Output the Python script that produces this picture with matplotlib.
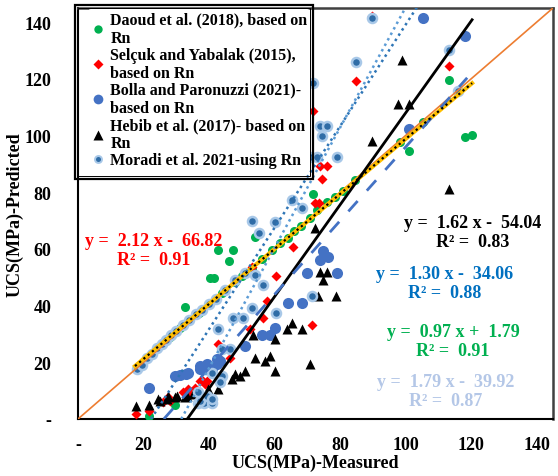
#UCS measured vs predicted for the five Rn-based models, with the fitted trendlines.

import matplotlib
matplotlib.use("Agg")
import matplotlib.pyplot as plt
from matplotlib.lines import Line2D
from matplotlib.patches import Rectangle
import numpy as np

plt.rcParams['font.family'] = ['Liberation Serif', 'DejaVu Serif']
plt.rcParams['font.weight'] = 'bold'

# Daoud et al. (2018)
daoud_x = [21.8, 29.6, 28, 31, 34, 37, 44, 48, 50, 53, 56.2, 59.2, 61.7, 64, 66, 68, 70.8, 73, 76, 78.5,
           81, 84.6, 32.7, 40.3, 41.5, 42.7, 46.1, 47.3, 54, 71.8, 98.3, 100.9, 105.4, 113.1, 118.2, 120.2]
daoud_y = [0.9, 4.9, 29, 32, 35, 37.5, 44.5, 48.5, 50.5, 53, 56.5, 59.6, 62, 64, 66.5, 68, 70.9, 73.7, 76.5, 78.4,
           80.5, 84.2, 39.6, 49.8, 49.8, 59.6, 55.8, 59.6, 64.3, 79.5, 97.7, 94.4, 104.7, 119.5, 99.6, 100.2]

# Selcuk and Yabalak (2015)
selcuk_x = [17.7, 21.8, 26, 27.6, 28.1, 32.2, 33.7, 34.2, 35.7, 37.3, 38.3, 38.8, 39.3, 42.8, 43.4, 46.4, 52.5,
            53, 56.6, 57.6, 60.4, 65.7, 71.4, 72.4, 73.7, 73.9, 75.9, 74.6, 71.8, 84.8, 89.7, 113.1]
selcuk_y = [1.8, 2.9, 5.9, 7.6, 6.4, 9.4, 10.5, 8.8, 11.1, 13.4, 13.4, 12.3, 13.4, 26.3, 21.1, 21.6, 31.6,
            53.8, 35.7, 41.5, 50.6, 60.8, 33, 76.2, 76.2, 89.2, 89.2, 84.6, 108.5, 119.1, 142.1, 124.6]

# Bolla and Paronuzzi (2021)
bolla_x = [21.8, 29.6, 31.1, 33, 33.7, 37.3, 37.3, 39.3, 40.8, 42.4, 42.4, 43.4, 51, 56.1, 58.6, 60.2,
           64.2, 68.3, 69.8, 73.9, 74.9, 76.4, 79, 100.9, 105.4, 118.2]
bolla_y = [11.1, 15.2, 15.4, 15.8, 16.4, 17.8, 18.7, 19.3, 17.5, 19.3, 21.1, 20.5, 25.7, 29.8, 29.8, 32.2,
           40.9, 40.9, 51.5, 56.1, 59.1, 57.3, 51.5, 102.4, 141.3, 135.1]

# Hebib et al. (2017)
hebib_x = [17.7, 21.8, 24.5, 25, 27.1, 27.6, 29.6, 30.1, 32.7, 33.2, 35.2, 37.3, 39.8, 42.8, 46.9, 47.9,
           49.5, 51, 53.5, 54, 57.1, 58.6, 60.2, 60.2, 63.7, 65.3, 68.3, 70.8, 72.2, 73.2, 73.9, 75.9,
           74.7, 78.8, 89.7, 97.8, 100.9, 98.8, 113.1]
hebib_y = [4.7, 4.9, 7, 6.4, 7, 8.2, 7.6, 8.2, 7.6, 8.2, 8.8, 9.4, 10.5, 10.5, 14, 15.8,
           15.2, 16.9, 29.8, 21.6, 20.5, 22.2, 16.9, 28.1, 31.6, 33.9, 31.6, 19.3, 67.3, 43.3, 52, 52,
           49.1, 43.3, 98.2, 111.3, 111.3, 126.6, 81.3]

# Moradi et al. (2021)
moradi_x = [17.9, 19.5, 21, 22.5, 24, 25.5, 27, 28.5, 30, 32, 34, 36, 38, 40, 42, 45, 48, 51,
            36.5, 38.6, 40.8, 37.3, 39.3, 40.8, 36.7, 40.8, 43.9, 43.4, 43.9, 46.4, 42.8, 47.4, 50.5,
            53, 60.5, 56.6, 54, 71.4, 55.4, 53, 60.2, 65.3, 68.3, 70.8, 72.9, 79, 74.6, 73.9, 75.9,
            71.8, 84.8, 89.7, 113.1, 116.1]
moradi_y = [17.5, 19, 21.5, 23, 25, 26.5, 28, 29.5, 31, 33, 35, 37, 38.5, 40.5, 42.5, 45.5, 49, 51.5,
            5.8, 5.8, 5.8, 6.4, 8.2, 7, 9.4, 16.4, 15.2, 12.9, 24.6, 24.6, 31.6, 35.7, 35.7,
            39.2, 37.4, 47.1, 50.9, 43.3, 65.7, 69.8, 69.6, 77.4, 74.3, 92.4, 92.4, 92.4, 100, 103.5, 103.5,
            118.7, 126.1, 141.3, 130.1, 115.8]

# trendline coefficients (slope, intercept) and R²
fit_daoud = (0.97, 1.79, 0.91)
fit_selcuk = (2.12, -66.82, 0.91)
fit_bolla = (1.30, -34.06, 0.88)
fit_hebib = (1.62, -54.04, 0.83)
fit_moradi = (1.79, -39.92, 0.87)

ticks = [0, 20, 40, 60, 80, 100, 120, 140]
tick_labels = ['-'] + [str(t) for t in ticks[1:]]


def eq_text(fit):
    a, b, r2 = fit
    sign = '+' if b >= 0 else '-'
    return 'y =  %.2f x %s  %.2f\nR² =  %.2f' % (a, sign, abs(b), r2)


def fit_line(fit, x0, x1):
    x = np.array([x0, x1])
    return x, fit[0] * x + fit[1]


fig = plt.figure(figsize=(5.58, 4.77), dpi=100)
ax = fig.add_axes([78 / 558, 57 / 477, 475 / 558, 411 / 477])
ax.set_xlim(0, 145)
ax.set_ylim(0, 145)

ax.plot(daoud_x, daoud_y, 'o', color='#00B050', ms=6.5, mec='none', zorder=3)
ax.plot(selcuk_x, selcuk_y, 'D', color='#FF0000', ms=5.5, mec='none', zorder=3)
ax.plot(bolla_x, bolla_y, 'o', color='#4472C4', ms=8, mec='none', zorder=3)
ax.plot(hebib_x, hebib_y, '^', color='black', ms=7, mec='none', zorder=3)
ax.plot(moradi_x, moradi_y, 'o', color='#2F6CA6', ms=6.5, mec='#A8C8E8', mew=1.8, zorder=4)

# 1:1 line
ax.plot([0, 145], [0, 145], color='#ED7D31', lw=1.2, zorder=5)

# trendlines
x, y = fit_line(fit_daoud, 17.4, 120.3)
ax.plot(x, y, color='#FFC000', lw=3, zorder=6)
ax.plot(x, y, color='black', lw=1.6, ls=(0, (1, 1.5)), zorder=7)
x, y = fit_line(fit_hebib, -fit_hebib[1] / fit_hebib[0], 120.3)
ax.plot(x, y, color='black', lw=2, zorder=6)
x, y = fit_line(fit_bolla, -fit_bolla[1] / fit_bolla[0], 118.8)
ax.plot(x, y, color='#4472C4', lw=2, ls=(0, (5, 5)), zorder=6)
x, y = fit_line(fit_selcuk, -fit_selcuk[1] / fit_selcuk[0], 150)
ax.plot(x, y, color='#5B9BD5', lw=1.8, ls=(0, (1, 1.5)), zorder=6)
x, y = fit_line(fit_moradi, -fit_moradi[1] / fit_moradi[0], 150)
ax.plot(x, y, color='#2E75B6', lw=1.8, ls=(0, (1, 1.5)), zorder=6)

# equation labels
eq_style = dict(fontsize=13, fontweight='bold', ha='center', va='center', linespacing=1.15, zorder=8)
ax.text(23.0, 59.5, eq_text(fit_selcuk), color='#FF0000', **eq_style)
ax.text(120.6, 66.0, eq_text(fit_hebib), color='black', **eq_style)
ax.text(112.0, 48.0, eq_text(fit_bolla), color='#0070C0', **eq_style)
ax.text(114.5, 27.5, eq_text(fit_daoud), color='#00B050', **eq_style)
ax.text(112.2, 9.8, eq_text(fit_moradi), color='#B4C7E7', **eq_style)

ax.set_xticks(ticks)
ax.set_xticklabels(tick_labels)
ax.set_yticks(ticks)
ax.set_yticklabels(tick_labels)
ax.tick_params(axis='both', length=0, labelsize=13)
ax.tick_params(axis='x', pad=12)
ax.tick_params(axis='y', pad=19)
for lab in ax.get_xticklabels() + ax.get_yticklabels():
    lab.set_fontweight('bold')

ax.set_xlabel('UCS(MPa)-Measured', fontsize=13, fontweight='bold', labelpad=1)
ax.set_ylabel('UCS(MPa)-Predicted', fontsize=13, fontweight='bold', labelpad=1)

for side in ['top', 'right']:
    ax.spines[side].set_color('#404040')
    ax.spines[side].set_linewidth(1.8)
for side in ['left', 'bottom']:
    ax.spines[side].set_color('black')
    ax.spines[side].set_linewidth(1.5)

# legend with a double frame
handles = [
    Line2D([], [], ls='none', marker='o', color='#00B050', ms=6, mec='none'),
    Line2D([], [], ls='none', marker='D', color='#FF0000', ms=5, mec='none'),
    Line2D([], [], ls='none', marker='o', color='#4472C4', ms=7, mec='none'),
    Line2D([], [], ls='none', marker='^', color='black', ms=6.5, mec='none'),
    Line2D([], [], ls='none', marker='o', color='#2F6CA6', ms=5, mec='#A8C8E8', mew=1.4),
]
labels = [
    'Daoud et al. (2018), based on\nRn',
    'Selçuk and Yabalak (2015),\nbased on Rn',
    'Bolla and Paronuzzi (2021)-\nbased on Rn',
    'Hebib et al. (2017)- based on\nRn',
    'Moradi et al. 2021-using Rn',
]
leg = fig.legend(handles, labels, loc='upper left', bbox_to_anchor=(80 / 558, 1 - 2 / 477),
                 frameon=True, facecolor='white', edgecolor='none', framealpha=1, borderpad=0.15,
                 handlelength=1.0, handletextpad=0.25, labelspacing=0.05,
                 prop={'family': 'Liberation Serif', 'weight': 'bold', 'size': 11.5})
leg.set_zorder(10)
fig.patches.append(Rectangle((75 / 558, 1 - 180 / 477), 238 / 558, 174 / 477, transform=fig.transFigure,
                             fill=False, ec='black', lw=1.6, zorder=11))
fig.patches.append(Rectangle((78 / 558, 1 - 177 / 477), 232 / 558, 168 / 477, transform=fig.transFigure,
                             fill=False, ec='black', lw=0.7, zorder=11))

fig.savefig('out.png', dpi=100)
